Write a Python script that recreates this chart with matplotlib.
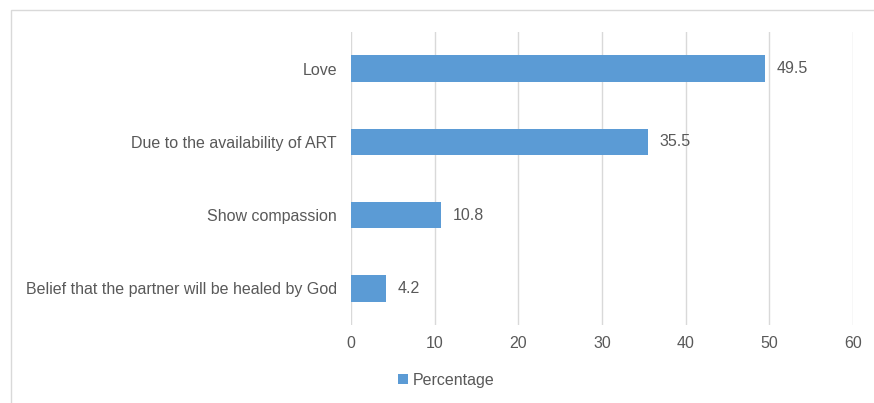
import matplotlib.pyplot as plt
from matplotlib.patches import Rectangle

categories = ["Love", "Due to the availability of ART", "Show compassion",
              "Belief that the partner will be healed by God"]
values = [49.5, 35.5, 10.8, 4.2]
xticks = [0, 10, 20, 30, 40, 50, 60]

plt.rcParams['font.family'] = ['Liberation Sans', 'DejaVu Sans']
txt = '#595959'
bar_color = '#5B9BD5'
grid_color = '#D9D9D9'
fs = 11.5

fig = plt.figure(figsize=(8.74, 4.03), dpi=100)
fig.patches.append(Rectangle((11 / 874, -0.1), 2, 1.1 - 10 / 403, transform=fig.transFigure,
                             fill=False, edgecolor=grid_color, linewidth=1))
ax = fig.add_axes([351 / 874, 1 - 325 / 403, (853 - 351) / 874, (325 - 32) / 403])

ypos = list(range(len(categories)))
ax.barh(ypos, values, height=0.36, color=bar_color, zorder=3, label='Percentage')
for y, v in zip(ypos, values):
    ax.text(v + 1.4, y, f"{v}", va='center', ha='left', fontsize=fs, color=txt)

ax.set_xlim(0, 60)
ax.set_ylim(len(categories) - 0.5, -0.5)
ax.set_yticks(ypos)
ax.set_yticklabels(categories, fontsize=fs, color=txt)
ax.set_xticks(xticks)
ax.set_xticklabels([str(t) for t in xticks], fontsize=fs, color=txt)
ax.tick_params(axis='both', length=0)
ax.tick_params(axis='y', pad=10)
ax.tick_params(axis='x', pad=8)
ax.grid(axis='x', color=grid_color, linewidth=1, zorder=0)
for s in ax.spines.values():
    s.set_visible(False)

fig.legend(loc='center', bbox_to_anchor=(446 / 874, 1 - 380 / 403), frameon=False,
           fontsize=fs, labelcolor=txt, handlelength=0.6, handleheight=0.6,
           handletextpad=0.3)

fig.savefig('out.png', dpi=100)
